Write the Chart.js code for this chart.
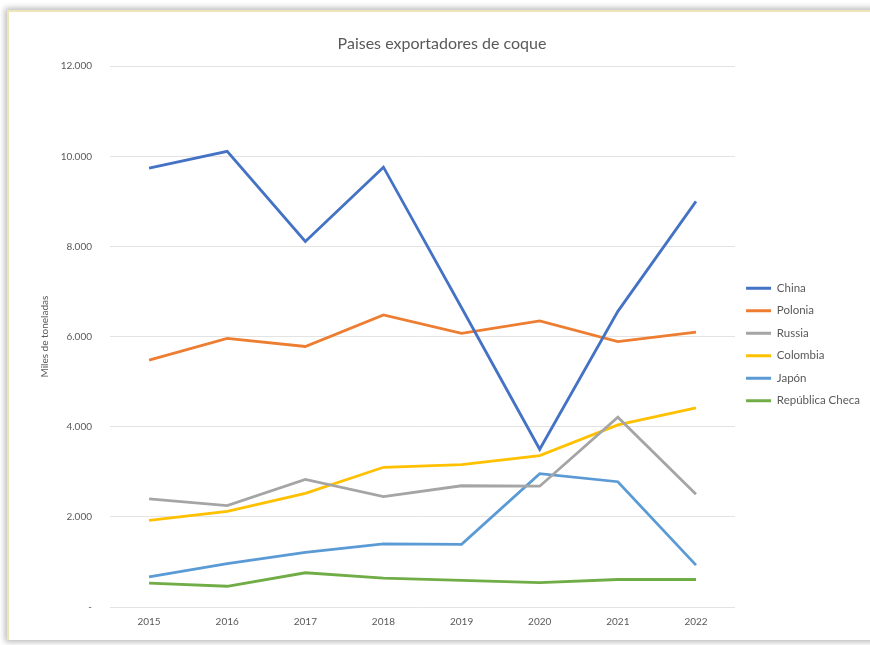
<!DOCTYPE html>
<html>
<head>
<meta charset="utf-8">
<script src="https://cdn.jsdelivr.net/npm/chart.js@4"></script>
<style>
  body { margin:0; background:#fff; width:870px; height:645px; overflow:hidden; position:relative; }
  #frame { position:absolute; left:7px; top:10px; width:872px; height:628px; background:#fff;
           border-top:2px solid #efe6b8; border-left:2px solid #efe6b8;
           box-shadow:0 0 6px 2px rgba(0,0,0,0.28); }
  #wrap { position:absolute; left:14px; top:22px; width:856px; height:615px; }
</style>
</head>
<body>
<div id="frame"></div>
<div id="wrap"><canvas id="coque"></canvas></div>
<script>
// data (miles de toneladas)
var years = ["2015", "2016", "2017", "2018", "2019", "2020", "2021", "2022"]
var china = [9740, 10110, 8110, 9760, 6640, 3500, 6560, 9000]
var polonia = [5480, 5960, 5780, 6480, 6070, 6350, 5890, 6100]
var russia = [2400, 2250, 2830, 2450, 2690, 2680, 4210, 2500]
var colombia = [1920, 2120, 2520, 3100, 3160, 3360, 4040, 4420]
var japon = [670, 960, 1210, 1400, 1390, 2960, 2780, 930]
var checa = [530, 460, 760, 640, 590, 540, 610, 610]
var yTicks = [0, 2000, 4000, 6000, 8000, 10000, 12000]

var font = "Lato, 'Open Sans', sans-serif"
var grey = "#595959"

function serie(label, data, color) {
  return {
    label: label,
    data: data,
    borderColor: color,
    backgroundColor: color,
    borderWidth: 2.8,
    pointRadius: 0,
    tension: 0
  }
}

// 12000 -> "12.000", 0 -> "-"
function miles(v) {
  if (v === 0) return "-"
  return String(v).replace(/\B(?=(\d{3})+(?!\d))/g, ".")
}

ctx = document.getElementById("coque").getContext('2d')

var chart = new Chart(ctx, {
  type: "line",
  data: {
    labels: years,
    datasets: [
      serie("China", china, "#4472C4"),
      serie("Polonia", polonia, "#ED7D31"),
      serie("Russia", russia, "#A5A5A5"),
      serie("Colombia", colombia, "#FFC000"),
      serie("Japón", japon, "#5B9BD5"),
      serie("República Checa", checa, "#70AD47")
    ]
  },
  options: {
    responsive: true,
    maintainAspectRatio: false,
    animation: false,
    layout: { padding: { left: 0, right: 0, bottom: 0, top: 0 } },
    plugins: {
      title: {
        display: true,
        text: "Paises exportadores de coque",
        color: grey,
        font: { family: font, size: 16, weight: "normal" },
        padding: { top: 12, bottom: 13 }
      },
      legend: {
        position: "right",
        title: { display: true, text: "", font: { size: 10 }, padding: { top: 0, bottom: 18 } },
        labels: {
          color: grey,
          font: { family: font, size: 11.5 },
          boxWidth: 25,
          boxHeight: 3,
          padding: 11,
          generateLabels: function(c) {
            return Chart.defaults.plugins.legend.labels.generateLabels(c).map(function(l) {
              l.lineWidth = 0
              return l
            })
          }
        }
      },
      tooltip: { enabled: false }
    },
    scales: {
      x: {
        offset: true,
        grid: { display: false, drawTicks: false },
        border: { display: false },
        ticks: { color: grey, font: { family: font, size: 10 }, padding: 9, maxRotation: 0 }
      },
      y: {
        min: 0,
        max: 12000,
        afterBuildTicks: function(s) {
          s.ticks = yTicks.map(function(v) { return { value: v } })
        },
        afterFit: function(s) { s.width = 96 },
        grid: { color: "#e3e3e3", lineWidth: 1, drawTicks: false },
        border: { display: false },
        ticks: {
          color: grey,
          font: { family: font, size: 10 },
          padding: 18,
          callback: function(value) { return miles(value) }
        },
        title: {
          display: true,
          text: "Miles de toneladas",
          color: grey,
          font: { family: font, size: 10 },
          padding: { top: 25, bottom: 0 }
        }
      }
    }
  }
})
</script>
</body>
</html>
